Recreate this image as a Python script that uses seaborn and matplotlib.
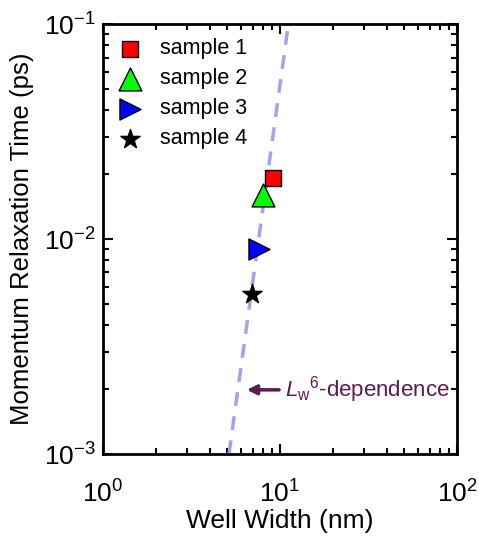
import matplotlib
matplotlib.use("Agg")
import matplotlib.pyplot as plt
import seaborn as sns
import pandas as pd

# data
samples = ["sample 1", "sample 2", "sample 3", "sample 4"]
well_width = [9.1, 8.0, 7.6, 6.95]          # nm
relax_time = [0.0192, 0.0160, 0.0090, 0.00555]  # ps

# L_w^6 guide line end points
fit_width = [5.15, 11.3]
fit_time = [0.001, 0.108]

markers = ["s", "^", ">", "*"]
colors = ["#ff0000", "#00ff00", "#0000ff", "#000000"]
sizes = [120, 270, 230, 210]

sns.set_style("ticks")
plt.rcParams['font.family'] = ['Liberation Sans', 'DejaVu Sans']
plt.rcParams['mathtext.fontset'] = 'custom'
plt.rcParams['mathtext.rm'] = 'Liberation Sans'
plt.rcParams['mathtext.it'] = 'Liberation Sans:italic'
plt.rcParams['axes.unicode_minus'] = False
plt.rcParams['text.color'] = 'black'
plt.rcParams['xtick.color'] = 'black'
plt.rcParams['ytick.color'] = 'black'
plt.rcParams['axes.edgecolor'] = 'black'
plt.rcParams['axes.labelcolor'] = 'black'

fig = plt.figure(figsize=(4.79, 5.38), dpi=100)
ax = fig.add_axes([0.215, 0.156, 0.739, 0.799])

fit_df = pd.DataFrame({"w": fit_width, "t": fit_time})
sns.lineplot(data=fit_df, x="w", y="t", ax=ax, color="#a99ff2", lw=2.5,
             linestyle=(0, (4, 3)), legend=False)

df = pd.DataFrame({"w": well_width, "t": relax_time, "s": samples})
for i, name in enumerate(samples):
    sub = df[df["s"] == name]
    sns.scatterplot(data=sub, x="w", y="t", ax=ax, marker=markers[i],
                    color=colors[i], s=sizes[i], edgecolor="black",
                    linewidth=1, label=name, zorder=3)

ax.set_xscale("log")
ax.set_yscale("log")
ax.set_xlim(1, 100)
ax.set_ylim(1e-3, 1e-1)

ax.set_xlabel("Well Width (nm)", fontsize=19, va="center")
ax.set_ylabel("Momentum Relaxation Time (ps)", fontsize=18.5, va="center")
ax.xaxis.set_label_coords(0.5, -0.156)
ax.yaxis.set_label_coords(-0.229, 0.5)
ax.tick_params(which="both", direction="in", top=True, right=True, labelsize=19, width=1.5)
ax.tick_params(which="major", length=7)
ax.tick_params(which="minor", length=4)
ax.tick_params(axis="x", which="major", pad=19)
ax.tick_params(axis="y", which="major", pad=5)
for sp in ax.spines.values():
    sp.set_linewidth(2)

leg = ax.legend(loc="upper left", frameon=False, fontsize=15.5, handletextpad=0.8,
                handlelength=1.2, labelspacing=0.42, borderaxespad=0.25)

ax.annotate(r"$L_{\mathrm{w}}$$^{6}$-dependence", xy=(6.5, 0.00199), xytext=(10.7, 0.00199),
            fontsize=16, color="#5b1a52", va="center",
            arrowprops=dict(arrowstyle="-|>", color="#5b1a52", lw=2.5,
                            mutation_scale=14, shrinkA=2, shrinkB=0))

fig.savefig("out.png", dpi=100)
